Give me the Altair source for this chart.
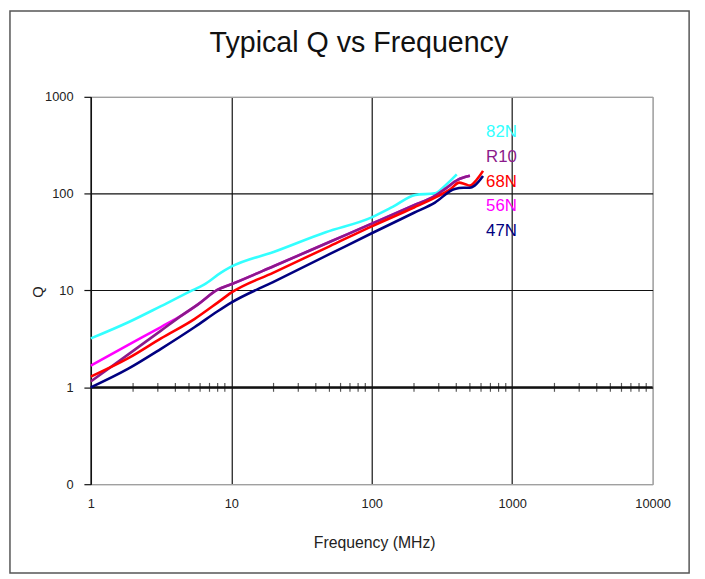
import altair as alt
import pandas as pd

FONT = "Liberation Sans, Arial, sans-serif"

# ---- data ----
freq_82N = [1, 1.85, 3.16, 5.1, 6.4, 8.4, 10, 20, 47, 100, 141, 204, 282, 333, 403]
q_82N = [3.2, 4.7, 6.9, 9.8, 11.5, 15.2, 17.6, 25, 40, 57, 73, 97, 101, 121, 158]

freq_56N = [1, 1.85, 3.16, 4.5, 5.8, 8, 10, 20, 50, 100, 200, 282, 333, 409, 445, 500]
q_56N = [1.68, 2.75, 4.2, 5.6, 7.2, 10.2, 11.6, 17.8, 31.7, 49, 76, 95, 112, 139, 146, 153]

freq_R10 = [1, 1.85, 3.16, 4.5, 5.8, 8, 10, 20, 50, 100, 200, 282, 333, 409, 445, 500]
q_R10 = [1.15, 2.19, 3.85, 5.6, 7.2, 10.2, 11.6, 17.8, 31.7, 49, 76, 95, 112, 139, 146, 153]

freq_68N = [1, 1.85, 3.16, 5.5, 8, 10, 20, 50, 100, 200, 282, 360, 420, 458, 500, 560, 620]
q_68N = [1.29, 2.0, 3.2, 5.1, 7.5, 9.5, 15.3, 28.6, 46, 72, 91, 110, 130, 126, 121, 140, 172]

freq_47N = [1, 1.85, 3.16, 5.5, 8, 10, 20, 50, 100, 200, 282, 390, 450, 500, 540, 620]
q_47N = [1.0, 1.56, 2.5, 4.2, 6.1, 7.5, 12.3, 23.7, 39, 63.5, 81, 112, 115, 115, 121, 152]

series = [
    ("82N", freq_82N, q_82N, "#33FFFF"),
    ("56N", freq_56N, q_56N, "#FF00FF"),
    ("R10", freq_R10, q_R10, "#8B1A8B"),
    ("68N", freq_68N, q_68N, "#FF0000"),
    ("47N", freq_47N, q_47N, "#000080"),
]

label_order = ["82N", "R10", "68N", "56N", "47N"]
label_colors = {"82N": "#33FFFF", "R10": "#8B1A8B", "68N": "#FF0000", "56N": "#FF00FF", "47N": "#000080"}

x_major = [1, 10, 100, 1000, 10000]
y_major = [0.1, 1, 10, 100, 1000]
x_minor = [m * d for d in [1, 10, 100, 1000] for m in range(2, 10)]

title_text = "Typical Q vs Frequency"
x_title = "Frequency (MHz)"
y_title = "Q"

# ---- scales / axes ----
xscale = alt.Scale(type="log", domain=[1, 10000], nice=False)
yscale = alt.Scale(type="log", domain=[0.1, 1000], nice=False)

xaxis = alt.Axis(
    values=x_major,
    labelExpr="format(datum.value, 'd')",
    grid=True,
    gridColor={"condition": {"test": "datum.value >= 10000", "value": "#a0a0a0"}, "value": "#111111"},
    gridWidth=1.2,
    ticks=False,
    domain=False,
    title=None,
    labelFont=FONT,
    labelFontSize=13,
    labelColor="#222222",
    labelPadding=14,
    labelFlush=False,
    labelOverlap=False,
)
yaxis = alt.Axis(
    values=y_major,
    labelExpr="datum.value < 1 ? '0' : format(datum.value, 'd')",
    grid=True,
    gridColor={"condition": {"test": "datum.value < 1 || datum.value > 500", "value": "#a0a0a0"}, "value": "#111111"},
    gridWidth=1.2,
    ticks=True,
    tickSize=7,
    tickColor="#111111",
    tickWidth=1.2,
    domain=True,
    domainColor="#111111",
    domainWidth=1.5,
    title=None,
    labelFont=FONT,
    labelFontSize=13,
    labelColor="#222222",
    labelPadding=11,
    labelFlush=False,
    labelOverlap=False,
)

one = pd.DataFrame({"d": [0]})

# base layer: axis line at Q = 1 with minor ticks
rule1 = alt.Chart(one).mark_rule(color="#111111", strokeWidth=2).encode(
    y=alt.YDatum(1, type="quantitative", scale=yscale, axis=yaxis)
)
ticks = alt.Chart(pd.DataFrame({"f": x_minor})).mark_tick(
    orient="vertical", size=9, thickness=1.2, color="#111111"
).encode(
    x=alt.X("f:Q", scale=xscale, axis=xaxis),
    y=alt.YDatum(1, type="quantitative", scale=yscale, axis=yaxis),
)

layers = [rule1, ticks]
for name, f, q, col in series:
    df = pd.DataFrame({"freq": f, "Q": q})
    layers.append(
        alt.Chart(df).mark_line(color=col, strokeWidth=2.6, interpolate="monotone").encode(
            x=alt.X("freq:Q", scale=xscale, axis=xaxis),
            y=alt.Y("Q:Q", scale=yscale, axis=yaxis),
        )
    )

# series labels
for i, name in enumerate(label_order):
    layers.append(
        alt.Chart(one).mark_text(
            text=name, font=FONT, fontSize=17, color=label_colors[name], align="left", baseline="middle"
        ).encode(x=alt.value(401), y=alt.value(36 + 25 * i))
    )

# titles
layers.append(
    alt.Chart(one).mark_text(text=title_text, font=FONT, fontSize=29, color="#111111",
                             align="center", baseline="middle").encode(x=alt.value(272), y=alt.value(-54))
)
layers.append(
    alt.Chart(one).mark_text(text=x_title, font=FONT, fontSize=16, color="#222222",
                             align="center", baseline="middle").encode(x=alt.value(288), y=alt.value(453))
)
layers.append(
    alt.Chart(one).mark_text(text=y_title, font=FONT, fontSize=15, color="#222222", angle=270,
                             align="center", baseline="middle").encode(x=alt.value(-53), y=alt.value(198))
)

# outer frame
layers.append(
    alt.Chart(one).mark_rect(filled=False, stroke="#555555", strokeWidth=1.5).encode(
        x=alt.value(-82), x2=alt.value(607), y=alt.value(-87), y2=alt.value(483)
    )
)

chart = alt.layer(*layers).properties(
    width=570,
    height=393,
    autosize=alt.AutoSizeParams(type="none"),
    padding={"left": 84, "top": 86, "right": 45, "bottom": 88},
    background="white",
).configure_view(stroke="#a0a0a0", strokeWidth=1)

chart.save("out.html", embed_options={"renderer": "svg", "actions": False})
